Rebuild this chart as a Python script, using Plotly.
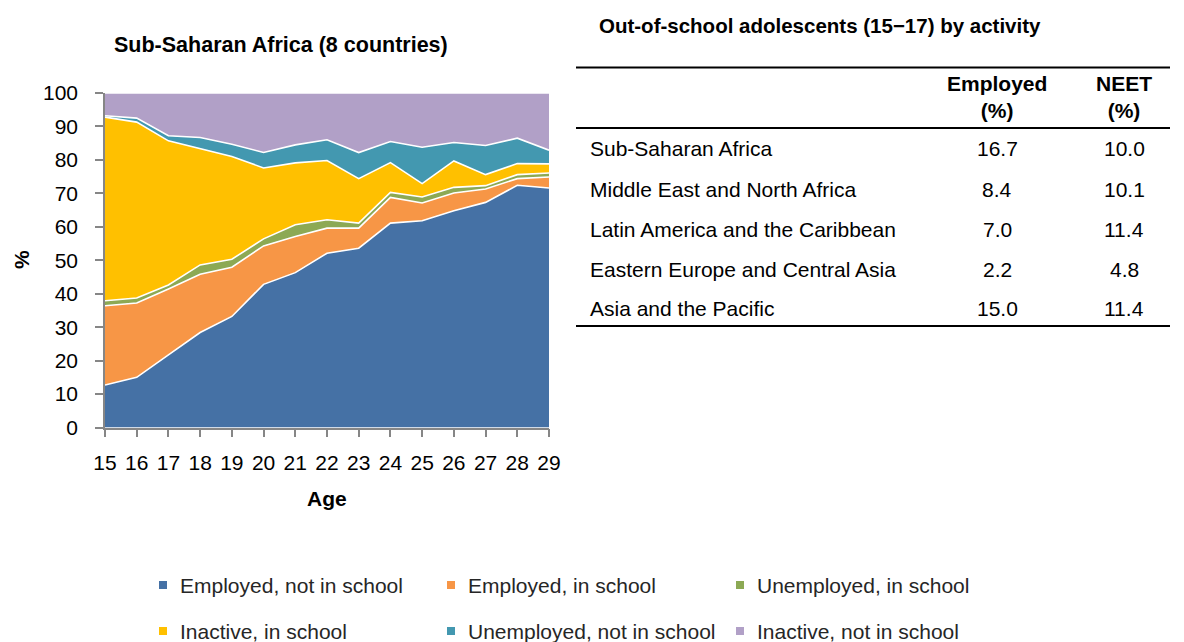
import plotly.graph_objects as go

# page has an 8px body margin; figure coordinates are shifted to compensate
OFF = 8
W, H = 1184 - OFF, 642 - OFF

ages = [15, 16, 17, 18, 19, 20, 21, 22, 23, 24, 25, 26, 27, 28, 29]
employed_not_school = [12.7, 15.0, 21.7, 28.4, 33.2, 42.8, 46.3, 52.1, 53.6, 61.1, 61.8, 64.8, 67.3, 72.4, 71.6]
employed_in_school = [23.7, 22.2, 19.7, 17.4, 14.7, 11.5, 10.8, 7.5, 6.0, 7.7, 5.3, 5.3, 4.0, 2.0, 3.3]
unemployed_in_school = [1.5, 1.5, 1.2, 2.8, 2.4, 2.1, 3.5, 2.5, 1.5, 1.5, 1.8, 1.7, 1.0, 1.2, 1.2]
inactive_in_school = [54.9, 52.6, 43.1, 34.7, 30.7, 21.2, 18.5, 17.7, 13.3, 8.9, 4.0, 7.9, 3.3, 3.3, 2.7]
unemployed_not_school = [0.4, 1.2, 1.5, 3.4, 3.7, 4.6, 5.4, 6.2, 7.8, 6.3, 10.9, 5.5, 8.7, 7.6, 4.1]
inactive_not_school = [6.8, 7.5, 12.8, 13.3, 15.3, 17.8, 15.5, 14.0, 17.8, 14.5, 16.2, 14.8, 15.7, 13.5, 17.1]

series_names = ["Employed, not in school", "Employed, in school", "Unemployed, in school",
                "Inactive, in school", "Unemployed, not in school", "Inactive, not in school"]
series_values = [employed_not_school, employed_in_school, unemployed_in_school,
                 inactive_in_school, unemployed_not_school, inactive_not_school]
series_colors = ["#4571A5", "#F79646", "#8CA954", "#FFC000", "#4398B0", "#B1A0C7"]

y_ticks = [0, 10, 20, 30, 40, 50, 60, 70, 80, 90, 100]

table_regions = ["Sub-Saharan Africa", "Middle East and North Africa", "Latin America and the Caribbean",
                 "Eastern Europe and Central Asia", "Asia and the Pacific"]
table_employed = ["16.7", "8.4", "7.0", "2.2", "15.0"]
table_neet = ["10.0", "10.1", "11.4", "4.8", "11.4"]

FONT = "Liberation Sans, Arial, sans-serif"

def px(x):
    return (x - OFF) / W

def py(y):
    return 1 - (y - OFF) / H

fig = go.Figure()
for name, vals, col in zip(series_names, series_values, series_colors):
    fig.add_trace(go.Scatter(
        x=ages, y=vals, name=name, mode="lines", stackgroup="one",
        line=dict(color="white", width=1.6), fillcolor=col, showlegend=False,
        hoverinfo="x+y+name"))

# plot area in page pixels
x0p, x1p, y0p, y1p = 105, 549, 93, 427.5

fig.update_layout(
    width=W, height=H, margin=dict(l=0, r=0, t=0, b=0, autoexpand=False),
    paper_bgcolor="white", plot_bgcolor="white",
    font=dict(family=FONT, color="black", size=21),
    xaxis=dict(domain=[px(x0p), px(x1p)], range=[15, 29], tickmode="array", tickvals=ages,
               automargin=False,
               showgrid=False, zeroline=False, showline=True, linecolor="#868686", linewidth=1.5,
               ticks="outside", ticklen=8, tickcolor="#868686", tickwidth=1.5,
               tickfont=dict(size=21, family=FONT), ticklabelstandoff=8),
    yaxis=dict(domain=[py(y1p), py(y0p)], range=[0, 100], tickmode="array", tickvals=y_ticks,
               automargin=False,
               showgrid=False, zeroline=False, showline=True, linecolor="#868686", linewidth=1.5,
               ticks="outside", ticklen=8, tickcolor="#868686", tickwidth=1.5,
               tickfont=dict(size=21, family=FONT), ticklabelstandoff=13),
)

ann = []
shapes = []
# axis titles
ann.append(dict(x=px(327), y=py(498), xref="paper", yref="paper", text="<b>Age</b>",
                showarrow=False, font=dict(size=21, family=FONT), xanchor="center", yanchor="middle"))
ann.append(dict(x=px(22), y=py(260), xref="paper", yref="paper", text="<b>%</b>", textangle=-90,
                showarrow=False, font=dict(size=21, family=FONT), xanchor="center", yanchor="middle"))
# chart title
ann.append(dict(x=px(281), y=py(45), xref="paper", yref="paper", text="<b>Sub-Saharan Africa (8 countries)</b>",
                showarrow=False, font=dict(size=21.5, family=FONT), xanchor="center", yanchor="middle"))
# table title
ann.append(dict(x=px(597), y=py(25), xref="paper", yref="paper",
                text="<b>Out-of-school adolescents (15\u221217) by activity</b>",
                showarrow=False, font=dict(size=20.5, family=FONT), xanchor="left", yanchor="middle"))
# table lines
for yl in [67.5, 128, 326]:
    shapes.append(dict(type="line", xref="paper", yref="paper", x0=px(576), x1=px(1170),
                       y0=py(yl), y1=py(yl), line=dict(color="black", width=2)))
# header
col_e, col_n = 997, 1124
ann.append(dict(x=px(col_e), y=py(97), xref="paper", yref="paper", text="<b>Employed<br>(%)</b>",
                showarrow=False, font=dict(size=21, family=FONT), xanchor="center", yanchor="middle"))
ann.append(dict(x=px(col_n), y=py(97), xref="paper", yref="paper", text="<b>NEET<br>(%)</b>",
                showarrow=False, font=dict(size=21, family=FONT), xanchor="center", yanchor="middle"))
row_y = [149, 189, 229, 269, 309]
for ry, reg, e, n in zip(row_y, table_regions, table_employed, table_neet):
    ann.append(dict(x=px(588), y=py(ry), xref="paper", yref="paper", text=reg, showarrow=False,
                    font=dict(size=21, family=FONT), xanchor="left", yanchor="middle"))
    ann.append(dict(x=px(col_e), y=py(ry), xref="paper", yref="paper", text=e, showarrow=False,
                    font=dict(size=21, family=FONT), xanchor="center", yanchor="middle"))
    ann.append(dict(x=px(col_n), y=py(ry), xref="paper", yref="paper", text=n, showarrow=False,
                    font=dict(size=21, family=FONT), xanchor="center", yanchor="middle"))

# legend
leg_pos = [(163, 585), (451, 585), (740, 585), (163, 631), (451, 631), (740, 631)]
for (lx, ly), name, col in zip(leg_pos, series_names, series_colors):
    shapes.append(dict(type="rect", xref="paper", yref="paper", x0=px(lx - 4), x1=px(lx + 4),
                       y0=py(ly + 4), y1=py(ly - 4), fillcolor=col, line=dict(width=0)))
    ann.append(dict(x=px(lx + 15), y=py(ly), xref="paper", yref="paper", text=name, showarrow=False,
                    font=dict(size=21, family=FONT, color="#262626"), xanchor="left", yanchor="middle"))

fig.update_layout(annotations=ann, shapes=shapes)
fig.write_html("out.html")
